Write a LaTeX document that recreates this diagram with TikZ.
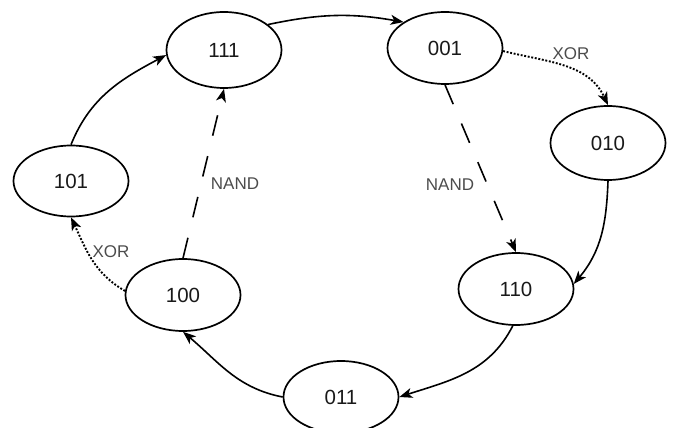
\documentclass[tikz,border=0pt]{standalone}
\usepackage{fontspec}
\setmainfont{Liberation Sans}
\usetikzlibrary{shapes.geometric,arrows.meta}
\begin{document}
\begin{tikzpicture}[x=1pt,y=1pt,
 st/.style={draw=black, line width=1.7pt, ellipse, minimum width=115pt, minimum height=72pt, inner sep=0pt, font=\fontsize{20.5}{20.5}\selectfont, text=black!90},
 lbl/.style={font=\fontsize{17}{17}\selectfont, text=black!70, inner sep=0pt},
 tr/.style={line width=1.6pt, -{Stealth[length=13pt,width=10pt,inset=3.5pt]}},
 dashtr/.style={tr, dash pattern=on 21pt off 21pt},
 dottr/.style={tr, line width=1.9pt, dash pattern=on 1.9pt off 1.7pt}
]
\useasboundingbox (0,0) rectangle (677,428);
\node[st, minimum height=76pt] (n111) at (224,378) {111};
\node[st] (n001) at (445,380) {001};
\node[st, minimum height=74pt] (n010) at (608,285) {010};
\node[st, minimum height=71pt] (n101) at (71,247) {101};
\node[st] (n100) at (183,133) {100};
\node[st] (n110) at (516,139) {110};
\node[st] (n011) at (341,31) {011};

\draw[tr] (n101.north) to[out=68,in=208] (n111.185);
\draw[tr] (n111.30) to[out=12,in=170] (n001.148);
\draw[dottr] (n001.-3) to[out=-14,in=115] (n010.north);
\draw[tr] (n010.south) to[out=268,in=50] (n110.5);
\draw[tr] (n110.265) to[out=243,in=18] (n011.east);
\draw[tr] (n011.west) to[out=169,in=-40] (n100.south);
\draw[dottr] (n100.176) to[out=150,in=-65] (n101.south);
\draw[dashtr] (n100.north) -- (n111.south);
\draw[dashtr] (n001.south) -- (n110.north);

\node[lbl] (x1) at (571,374) {XOR};
\node[lbl] (x2) at (111,176) {XOR};
\node[lbl] (a1) at (235,244) {NAND};
\node[lbl] (a2) at (450,243) {NAND};
\end{tikzpicture}
\end{document}
